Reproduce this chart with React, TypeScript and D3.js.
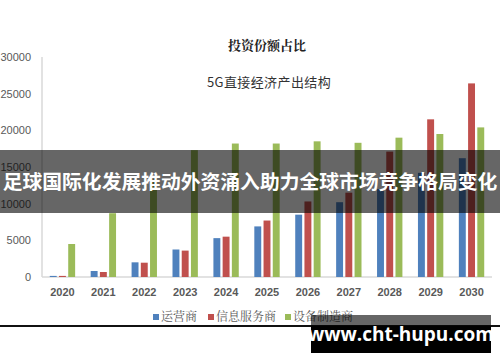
import React from "react";
import * as d3 from "d3";

const years = ["2020", "2021", "2022", "2023", "2024", "2025", "2026", "2027", "2028", "2029", "2030"];
const operators = [150, 820, 2000, 3750, 5300, 6900, 8500, 10200, 12000, 14200, 16200];
const infoServices = [150, 680, 1950, 3600, 5500, 7700, 10300, 11500, 17100, 21500, 26400];
const equipment = [4500, 8700, 13300, 17300, 18200, 18200, 18500, 18300, 19000, 19500, 20400];
const seriesNames = ["运营商", "信息服务商", "设备制造商"];
const seriesColors = ["#4f81bd", "#c0504d", "#9bbb59"];
const yTicks = [0, 5000, 10000, 15000, 20000, 25000, 30000];

const W = 500;
const H = 362;

export default function App() {
  const x = d3.scaleBand<string>().domain(years).range([42, 492]).paddingInner(0.38).paddingOuter(0.19);
  const x1 = d3.scaleBand<string>().domain(seriesNames).range([0, x.bandwidth()]).paddingInner(0.25);
  const y = d3.scaleLinear().domain([0, 30000]).range([277, 57]);
  const allSeries = [operators, infoServices, equipment];

  const legendItems = [
    { name: seriesNames[0], x: 153 },
    { name: seriesNames[1], x: 208 },
    { name: seriesNames[2], x: 285 },
  ];

  return (
    <svg
      width={W}
      height={H}
      style={{ position: "absolute", left: 0, top: 0, background: "#fff" }}
      fontFamily="'Liberation Sans', 'Open Sans', sans-serif"
    >
      <rect width={W} height={H} fill="#fff" />

      {/* titles */}
      <text x={267} y={50} textAnchor="middle" fontSize={13} fontWeight="bold" fill="#222"
        fontFamily="'Noto Serif CJK SC', 'Noto Sans CJK SC', serif">投资份额占比</text>
      <text x={269} y={87} textAnchor="middle" fontSize={13} fill="#333" letterSpacing={0.4}
        fontFamily="'Noto Sans CJK SC', sans-serif">5G直接经济产出结构</text>

      {/* axes */}
      <line x1={42} x2={42} y1={57} y2={277} stroke="#d9d9d9" strokeWidth={1.5} />
      <line x1={42} x2={492} y1={277} y2={277} stroke="#d9d9d9" strokeWidth={1.5} />
      {yTicks.map((t) => (
        <text key={t} x={31} y={y(t) + 4} textAnchor="end" fontSize={11} fill="#595959">{t}</text>
      ))}
      {years.map((yr) => (
        <text key={yr} x={(x(yr) ?? 0) + x.bandwidth() / 2} y={296} textAnchor="middle"
          fontSize={11} fontWeight="bold" fill="#595959">{yr}</text>
      ))}

      {/* bars */}
      {years.map((yr, i) => (
        <g key={yr} transform={`translate(${x(yr)},0)`}>
          {allSeries.map((s, j) => (
            <rect key={j} x={x1(seriesNames[j])} y={y(s[i])} width={x1.bandwidth()}
              height={277 - y(s[i])} fill={seriesColors[j]} />
          ))}
        </g>
      ))}

      {/* legend */}
      {legendItems.map((l, j) => (
        <g key={l.name}>
          <rect x={l.x} y={314} width={6} height={6} fill={seriesColors[j]} />
          <text x={l.x + 8} y={321} fontSize={12} fill="#595959"
            fontFamily="'Noto Serif CJK SC', 'Noto Sans CJK SC', serif">{l.name}</text>
        </g>
      ))}

      {/* overlay banner */}
      <rect x={0} y={150} width={W} height={63} fill="#000" opacity={0.6} />
      <text x={W / 2} y={189} textAnchor="middle" fontSize={19.8} fontWeight="bold" fill="#fff"
        fontFamily="'Noto Sans CJK SC', sans-serif">足球国际化发展推动外资涌入助力全球市场竞争格局变化</text>

      {/* bottom line and watermark */}
      <line x1={0} x2={W} y1={326} y2={326} stroke="#111" strokeWidth={2} />
      <rect x={311} y={315} width={180} height={11} fill="#000" opacity={0.6} />
      <rect x={311} y={326} width={180} height={27} fill="#000" />
      <text x={401} y={341} textAnchor="middle" fontSize={19} fontWeight="bold" fill="#fff"
        fontFamily="'Open Sans', sans-serif">www.cht-hupu.com</text>
    </svg>
  );
}
